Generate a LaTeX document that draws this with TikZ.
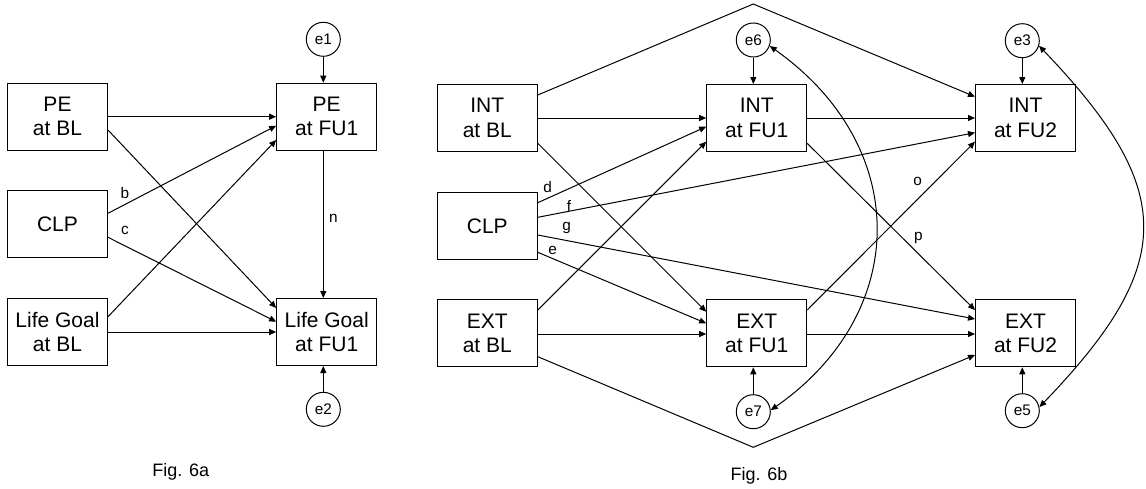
\documentclass[tikz,border=0pt]{standalone}
\usepackage{fontspec}
\setmainfont{Liberation Sans}
\usetikzlibrary{arrows.meta}
\begin{document}
\begin{tikzpicture}[x=0.75pt,y=-0.75pt,line width=0.75pt,
  var/.style={draw, minimum width=75pt, minimum height=50.25pt, inner sep=0pt,
    align=center, font=\fontsize{15.75}{18.2}\selectfont},
  err/.style={draw, circle, minimum size=25.5pt, inner sep=0pt,
    font=\fontsize{11.5}{13}\selectfont},
  lbl/.style={inner sep=0pt, font=\fontsize{11.5}{13}\selectfont},
  figcaption/.style={inner sep=0pt, font=\fontsize{13.5}{16}\selectfont},
  link/.style={-{Triangle[length=5.25pt,width=4.5pt]}},
  cov/.style={{Triangle[length=5.25pt,width=4.5pt]}-{Triangle[length=5.25pt,width=4.5pt]}}]
\useasboundingbox (0,0) rectangle (1146,489);

% ---------- Fig. 6a ----------
\node[var] (peBL) at (57.5,116.7) {PE\\at BL};
\node[var] (clpA) at (57.5,224) {CLP};
\node[var] (lgBL) at (57.5,332) {Life Goal\\at BL};
\node[var] (peFU) at (326.7,116.7) {PE\\at FU1};
\node[var] (lgFU) at (326.7,332) {Life Goal\\at FU1};
\node[err] (e1) at (323.3,39.3) {e1};
\node[err] (e2) at (323.3,409.3) {e2};

\draw[link] (peBL.east |- 0,116.7) -- (peFU.west |- 0,116.7);
\draw[link] (peBL.east |- 0,130) -- (lgFU.west |- 0,308);
\draw[link] (clpA.east |- 0,213.3) -- (peFU.west |- 0,125.7);
\draw[link] (clpA.east |- 0,237.3) -- (lgFU.west |- 0,321.7);
\draw[link] (lgBL.east |- 0,316.7) -- (peFU.west |- 0,140);
\draw[link] (lgBL.east |- 0,332) -- (lgFU.west |- 0,332);
\draw[link] (peFU.south -| e1) -- (lgFU.north -| e1);
\draw[link] (e1.south) -- (peFU.north -| e1);
\draw[link] (e2.north) -- (lgFU.south -| e2);

\node[lbl] (lb) at (125,193.3) {b};
\node[lbl] (lc) at (125,230.7) {c};
\node[lbl] (ln) at (333.3,218.3) {n};
\node[figcaption] (capA) at (180.8,471.7) {Fig. 6a};

% ---------- Fig. 6b ----------
\node[var] (intBL) at (487.3,118) {INT\\at BL};
\node[var] (clpB) at (487.3,226) {CLP};
\node[var] (extBL) at (487.3,333.3) {EXT\\at BL};
\node[var] (intF1) at (756.7,118) {INT\\at FU1};
\node[var] (extF1) at (756.7,333.3) {EXT\\at FU1};
\node[var] (intF2) at (1025.5,118) {INT\\at FU2};
\node[var] (extF2) at (1025.5,333.3) {EXT\\at FU2};
\node[err] (e6) at (753.3,40) {e6};
\node[err] (e7) at (753.3,411.7) {e7};
\node[err] (e3) at (1022.3,40.7) {e3};
\node[err] (e5) at (1022.3,410.7) {e5};
\coordinate (topV) at (753.3,4);
\coordinate (botV) at (753.3,447.3);

\draw[link] (intBL.east |- 0,95) -- (topV) -- (intF2.west |- 0,96.7);
\draw[link] (extBL.east |- 0,356.7) -- (botV) -- (extF2.west |- 0,355);
\draw[link] (intBL.east |- 0,118) -- (intF1.west |- 0,118);
\draw[link] (intBL.east |- 0,143.3) -- (extF1.west |- 0,311.7);
\draw[link] (clpB.east |- 0,202.7) -- (intF1.west |- 0,126.7);
\draw[link] (clpB.east |- 0,217.3) -- (intF2.west |- 0,132.7);
\draw[link] (clpB.east |- 0,235) -- (extF2.west |- 0,319);
\draw[link] (clpB.east |- 0,252.3) -- (extF1.west |- 0,323.3);
\draw[link] (extBL.east |- 0,310) -- (intF1.west |- 0,141.7);
\draw[link] (extBL.east |- 0,334) -- (extF1.west |- 0,334);
\draw[link] (intF1.east |- 0,118) -- (intF2.west |- 0,118);
\draw[link] (intF1.east |- 0,143.3) -- (extF2.west |- 0,310);
\draw[link] (extF1.east |- 0,310) -- (intF2.west |- 0,141.7);
\draw[link] (extF1.east |- 0,334) -- (extF2.west |- 0,334);
\draw[link] (e6.south) -- (intF1.north -| e6);
\draw[link] (e7.north) -- (extF1.south -| e7);
\draw[link] (e3.south) -- (intF2.north -| e3);
\draw[link] (e5.north) -- (extF2.south -| e5);

% residual covariances
\draw[cov] (e6.-20) .. controls (911,146) and (911,312) .. (e7.5);
\draw[cov] (e3.-17) .. controls (1177,190) and (1177,264) .. (e5.12);

\node[lbl] (ld) at (547.7,186.7) {d};
\node[lbl] (lf) at (569,206) {f};
\node[lbl] (lg) at (566.7,227.7) {g};
\node[lbl] (le) at (552.7,250) {e};
\node[lbl] (lo) at (917.7,181.7) {o};
\node[lbl] (lp) at (918.3,238.3) {p};
\node[figcaption] (capB) at (759,475.7) {Fig. 6b};
\end{tikzpicture}
\end{document}
